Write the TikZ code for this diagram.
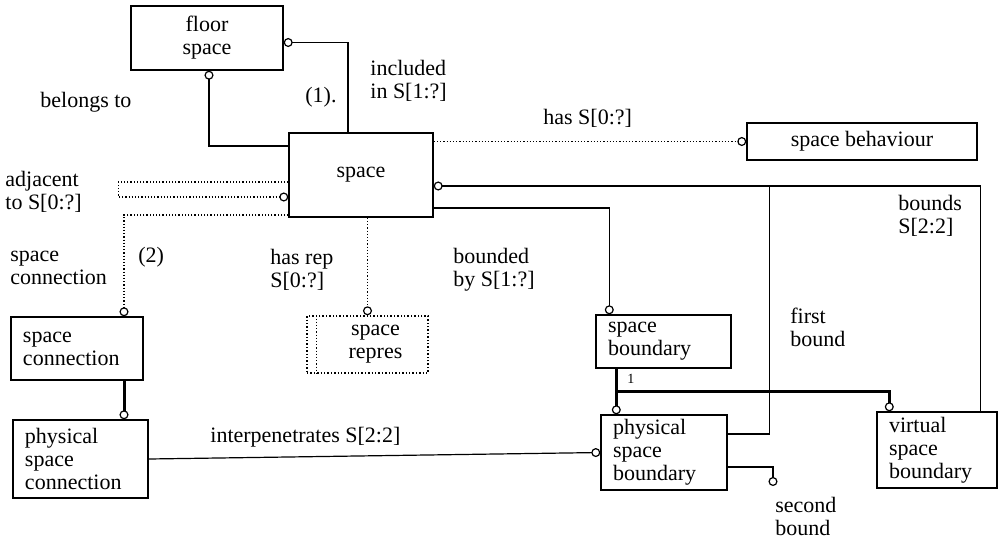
\documentclass[tikz,border=0pt]{standalone}
\usepackage{fontspec}
\setmainfont{Liberation Serif}
\usetikzlibrary{arrows.meta,calc}

\begin{document}
\begin{tikzpicture}[x=0.5pt,y=-0.5pt,
font=\fontsize{11}{11.5}\selectfont,
entity/.style={draw,line width=0.7pt,inner xsep=6pt,inner ysep=0pt,align=left},
rel/.style={line width=0.6pt},
optrel/.style={line width=0.6pt,densely dotted},
subrel/.style={line width=1.5pt},
endo/.style={-{Circle[open,length=4.5pt,width=4.5pt,line width=0.6pt]}},
lbl/.style={anchor=west,align=left,inner sep=0pt}
]
\useasboundingbox (0,0) rectangle (998,537);

% entities
\node[entity,align=center,minimum width=76pt,minimum height=32pt] (floor) at (207,38) {floor\\space};
\node[entity,align=center,minimum width=72pt,minimum height=42pt] (space) at (361,175) {space};
\node[entity,align=center,minimum width=115pt,minimum height=18.5pt] (behaviour) at (862,141.5) {space behaviour};
\node[entity,text width=54pt,minimum height=31.5pt] (spconn) at (77,348.5) {space\\connection};
\node[entity,text width=55.5pt,minimum height=39pt] (physconn) at (80.5,459) {physical\\space\\connection};
\node[entity,densely dotted,align=center,minimum width=60.5pt,minimum height=28.5pt] (repres) at (367.5,344.5) {\hspace{8pt}space\\\hspace{8pt}repres};
\draw[optrel] ($(repres.north west)+(10,0)$) -- ($(repres.south west)+(10,0)$);
\node[entity,text width=55.5pt,minimum height=26.5pt] (spbound) at (663.5,341.5) {space\\boundary};
\node[entity,text width=51pt,minimum height=37.5pt] (physbound) at (664,452.5) {physical\\space\\boundary};
\node[entity,text width=48pt,minimum height=38pt] (virtual) at (937,450) {virtual\\space\\boundary};
\coordinate (sb) at (773,486);

% relations
\draw[rel,endo] ($(space.north)+(-13,0)$) |- ($(floor.east)+(0,4.5)$);
\draw[rel,endo] ($(space.west)+(0,-29)$) -| ($(floor.south)+(2,0)$);
\draw[optrel,endo] ($(space.west)+(0,7)$) -- ++(-170,0) -- ++(0,15) -- ($(space.west)+(0,22)$);
\draw[optrel,endo] ($(space.west)+(0,40)$) -| ($(spconn.north)+(47,0)$);
\draw[optrel,endo] (space.south -| repres.north) -- (repres.north);
\draw[optrel,endo] (space.east |- behaviour.west) -- (behaviour.west);
\draw[rel,endo] ($(space.east)+(0,33)$) -| ($(spbound.north west)+(14,0)$);
\draw[rel,endo] ($(virtual.north east)+(-17,0)$) |- ($(space.east)+(0,11)$);
\draw[rel] ($(physbound.east)+(0,-18.5)$) -| ($(space.east)+(336,11)$);
\draw[rel,endo] ($(physbound.east)+(0,14.5)$) -| (sb);
\draw[rel,endo] (physconn.east) -- (physbound.west);

% subtypes
\draw[subrel,endo] ($(spconn.south)+(47,0)$) -- ($(physconn.north)+(43.5,0)$);
\draw[subrel,endo] ($(spbound.south west)+(21,0)$) -- ($(physbound.north west)+(16,0)$);
\draw[subrel,endo] ($(spbound.south west)+(21,23)$) -| ($(virtual.north west)+(13,0)$);

% labels
\node[lbl] (belongs) at (40,102) {belongs to};
\node[lbl] (one) at (305,97) {(1).};
\node[lbl] (included) at (370,81) {included\\in S[1:?]};
\node[lbl] (has) at (543,118) {has S[0:?]};
\node[lbl] (adjacent) at (5,192) {adjacent\\to S[0:?]};
\node[lbl] (connlbl) at (10,268) {space\\connection};
\node[lbl] (two) at (138,257) {(2)};
\node[lbl] (hasrep) at (270,270) {has rep\\S[0:?]};
\node[lbl] (bounded) at (453,270) {bounded\\by S[1:?]};
\node[lbl] (bounds) at (898,216) {bounds\\S[2:2]};
\node[lbl] (first) at (790,327) {first\\bound};
\node[lbl] (second) at (775,516) {second\\bound};
\node[lbl] (interpen) at (210,437) {interpenetrates S[2:2]};
\node[lbl,font=\fontsize{7}{8}\selectfont] (onelbl) at (627,379) {1};
\end{tikzpicture}
\end{document}
